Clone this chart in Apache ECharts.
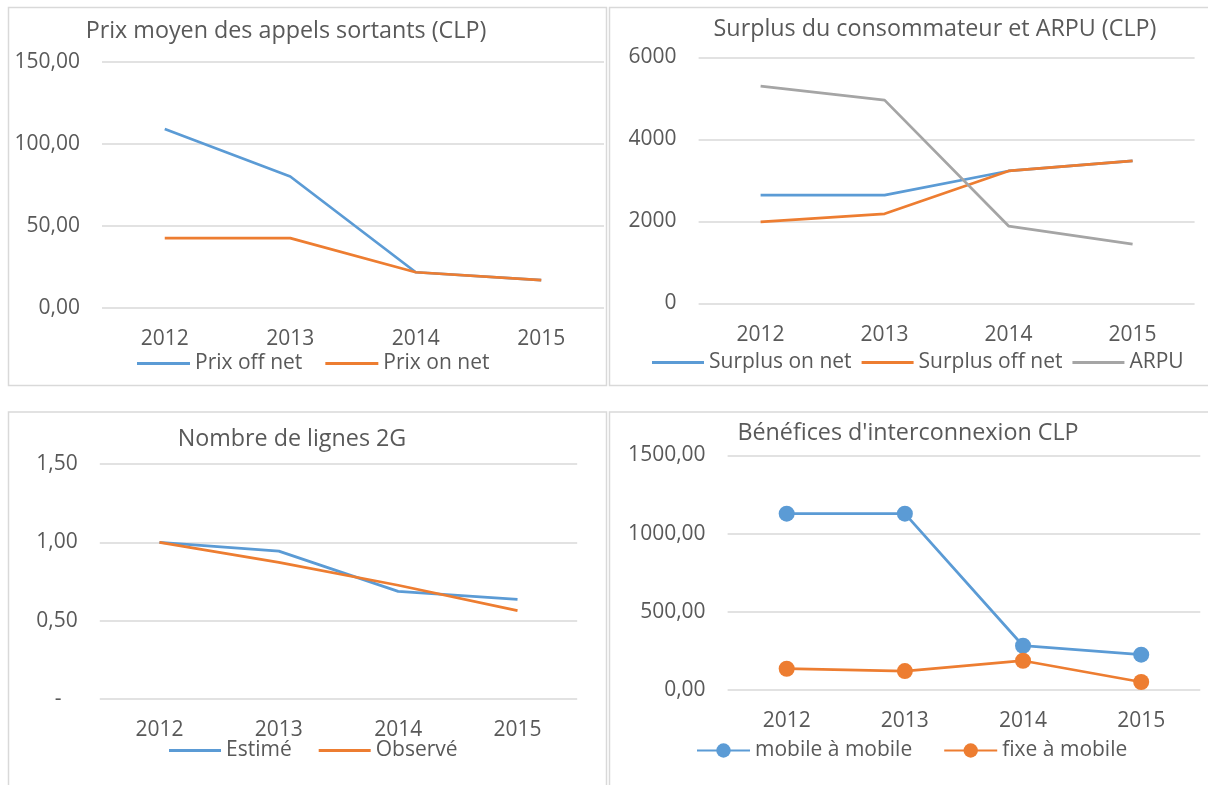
<!DOCTYPE html>
<html>
<head>
<meta charset="utf-8">
<script src="https://cdn.jsdelivr.net/npm/echarts@6/dist/echarts.min.js"></script>
<style>
html,body{margin:0;padding:0;background:#fff;}
#c{width:1208px;height:785px;}
</style>
</head>
<body>
<div id="c"></div>
<script>
var categories = ['2012', '2013', '2014', '2015'];

var prixOffNet = [109.2, 80.2, 21.8, 17.0];
var prixOnNet = [42.6, 42.6, 21.8, 17.0];

var surplusOnNet = [2640, 2640, 3230, 3475];
var surplusOffNet = [1990, 2185, 3230, 3475];
var arpu = [5300, 4960, 1885, 1445];

var estime = [1.00, 0.944, 0.687, 0.636];
var observe = [1.00, 0.872, 0.726, 0.564];

var mobileAMobile = [1127, 1127, 283, 226];
var fixeAMobile = [136, 121, 187, 51];

var titles = [
  'Prix moyen des appels sortants (CLP)',
  'Surplus du consommateur et ARPU (CLP)',
  'Nombre de lignes 2G',
  "Bénéfices d'interconnexion CLP"
];

var FONT = '"Open Sans", sans-serif';
var TXT = '#595959';
var BLUE = '#5b9bd5', ORANGE = '#ed7d31', GRAY = '#a5a5a5';

function comma2(v) { return v.toFixed(2).replace('.', ','); }

var grids = [
  {left: 102, right: 604, top: 62, bottom: 477},
  {left: 698.6, right: 13.4, top: 57.5, bottom: 481.7},
  {left: 99.8, right: 630.8, top: 464, bottom: 86},
  {left: 727.6, right: 7.7, top: 455.3, bottom: 95}
];

var yCfg = [
  {min: 0, max: 150, interval: 50, fmt: comma2},
  {min: 0, max: 6000, interval: 2000, fmt: function (v) { return String(v); }},
  {min: 0, max: 1.5, interval: 0.5, fmt: function (v) { return v === 0 ? '-   ' : comma2(v); }},
  {min: 0, max: 1500, interval: 500, fmt: comma2}
];

var xAxes = grids.map(function (g, i) {
  return {
    type: 'category', gridIndex: i, data: categories, boundaryGap: true,
    axisLine: {show: false}, axisTick: {show: false},
    axisLabel: {color: TXT, fontFamily: FONT, fontSize: 21, margin: 21}
  };
});

var yAxes = yCfg.map(function (c, i) {
  return {
    type: 'value', gridIndex: i, min: c.min, max: c.max, interval: c.interval,
    axisLine: {show: false}, axisTick: {show: false},
    axisLabel: {color: TXT, fontFamily: FONT, fontSize: 21, margin: 22, formatter: c.fmt},
    splitLine: {lineStyle: {color: '#d9d9d9', width: 1.5}}
  };
});

function lineSeries(name, data, color, idx, marker) {
  return {
    type: 'line', name: name, data: data, xAxisIndex: idx, yAxisIndex: idx,
    symbol: marker ? 'circle' : 'none', symbolSize: marker ? 16 : 0,
    showSymbol: !!marker,
    lineStyle: {color: color, width: 2.75},
    itemStyle: {color: color},
    animation: false, silent: true
  };
}

var titleCenters = [[286, 19], [935, 17.5], [292, 427.7], [908, 421]];

var option = {
  backgroundColor: '#fff',
  animation: false,
  title: titles.map(function (t, i) {
    return {
      text: t, left: titleCenters[i][0], top: titleCenters[i][1], textAlign: 'center', padding: 0,
      textStyle: {color: TXT, fontFamily: FONT, fontSize: 23.3, fontWeight: 'normal', lineHeight: 24}
    };
  }),
  grid: grids,
  xAxis: xAxes,
  yAxis: yAxes,
  legend: [
    {data: ['Prix off net', 'Prix on net'], left: 137, top: 353, padding: 0, itemGap: 23,
      itemWidth: 53, itemHeight: 3, icon: 'rect',
      textStyle: {color: TXT, fontFamily: FONT, fontSize: 21}},
    {data: ['Surplus on net', 'Surplus off net', 'ARPU'], left: 652, top: 352, padding: 0, itemGap: 10,
      itemWidth: 52, itemHeight: 3, icon: 'rect',
      textStyle: {color: TXT, fontFamily: FONT, fontSize: 21}},
    {data: ['Estimé', 'Observé'], left: 169, top: 740, padding: 0, itemGap: 27,
      itemWidth: 52, itemHeight: 3, icon: 'rect',
      textStyle: {color: TXT, fontFamily: FONT, fontSize: 21}},
    {data: ['mobile à mobile', 'fixe à mobile'], left: 696, top: 740, padding: 0, itemGap: 31,
      itemWidth: 53, itemHeight: 18,
      textStyle: {color: TXT, fontFamily: FONT, fontSize: 21}}
  ],
  graphic: [
    {type: 'rect', shape: {x: 8.5, y: 7.5, width: 598, height: 378}, style: {fill: 'none', stroke: '#d9d9d9', lineWidth: 1.5}, silent: true},
    {type: 'rect', shape: {x: 609.5, y: 7.5, width: 606, height: 378}, style: {fill: 'none', stroke: '#d9d9d9', lineWidth: 1.5}, silent: true},
    {type: 'rect', shape: {x: 8.5, y: 412, width: 598, height: 400}, style: {fill: 'none', stroke: '#d9d9d9', lineWidth: 1.5}, silent: true},
    {type: 'rect', shape: {x: 609.5, y: 412, width: 606, height: 400}, style: {fill: 'none', stroke: '#d9d9d9', lineWidth: 1.5}, silent: true}
  ],
  series: [
    lineSeries('Prix off net', prixOffNet, BLUE, 0, false),
    lineSeries('Prix on net', prixOnNet, ORANGE, 0, false),
    lineSeries('Surplus on net', surplusOnNet, BLUE, 1, false),
    lineSeries('Surplus off net', surplusOffNet, ORANGE, 1, false),
    lineSeries('ARPU', arpu, GRAY, 1, false),
    lineSeries('Estimé', estime, BLUE, 2, false),
    lineSeries('Observé', observe, ORANGE, 2, false),
    lineSeries('mobile à mobile', mobileAMobile, BLUE, 3, true),
    lineSeries('fixe à mobile', fixeAMobile, ORANGE, 3, true)
  ]
};

var chart = echarts.init(document.getElementById('c'), null, {renderer: 'canvas'});
chart.setOption(option);
</script>
</body>
</html>
